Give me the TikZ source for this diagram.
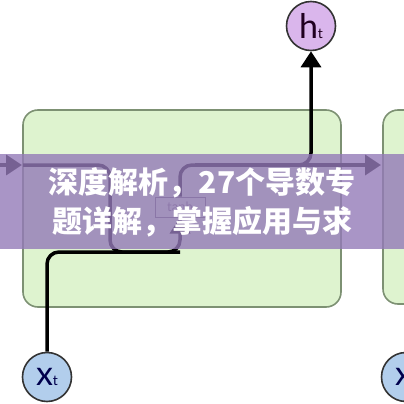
\documentclass[tikz,border=0pt]{standalone}
\usepackage{fontspec}
\newfontfamily\cjk{Noto Sans CJK SC}
\newfontfamily\betu{Lato}
\usetikzlibrary{arrows.meta,positioning}
\definecolor{zold}{RGB}{222,243,207}
\definecolor{keret}{RGB}{125,145,115}
\definecolor{lila}{RGB}{218,182,236}
\definecolor{kek}{RGB}{178,206,236}
\definecolor{savszin}{RGB}{148,122,184}
\tikzset{
  cella/.style={draw=keret,line width=1.6pt,fill=zold,rounded corners=15pt},
  kor/.style={circle,draw=black!80,line width=1.6pt,minimum size=49pt,inner sep=0pt,
              font=\betu\fontsize{34}{34}\selectfont},
  vonal/.style={line width=3.5pt,rounded corners=12pt},
  nyil/.style={-{Triangle[length=16pt,width=20pt]}},
  tanhdoboz/.style={draw=black!60,line width=1pt,fill=zold,minimum width=50pt,minimum height=20pt,
                    inner sep=0pt,font=\betu\fontsize{13}{13}\selectfont,text=black!55},
  sav/.style={fill=savszin,fill opacity=0.8},
  felirat/.style={text=white,align=center,font=\cjk\bfseries\fontsize{30}{39}\selectfont},
}
\newcommand{\alsot}{{\fontsize{14}{14}\selectfont t}}
\begin{document}
\begin{tikzpicture}[x=1pt,y=-1pt]
  \useasboundingbox (0,0) rectangle (404,404);
  \clip (0,0) rectangle (404,404);
  % cellak
  \draw[cella] (23,110) rectangle (341,307);
  \draw[cella] (383,110) rectangle (470,304);
  % csomopontok
  \node[tanhdoboz] (tanh) at (180,207) {tanh};
  \node[kor,fill=lila,text=black!75!violet] (ht) at (311,26) {h\alsot};
  \node[kor,fill=kek,text=black!70!blue] (xt) at (47,377) {x\alsot};
  \node[kor,fill=kek,text=black!70!blue] (xt2) at (406,377) {x\alsot};
  % vonalak
  \draw[vonal,nyil] (-10,165) -- (22,165);
  \draw[vonal] (23,165) -- (110,165) -- (110,252) -- (180,252);
  \draw[vonal,nyil] (xt) -- (47,252) -- (180,252) -- (tanh);
  \draw[vonal,nyil] (tanh) -- (180,165) -- (311,165) -- (ht);
  \draw[vonal,nyil] (195,165) -- (381,165);
  \draw[vonal] (xt2) -- (406,300);
  % sav
  \fill[sav] (0,154) rectangle (404,249);
  \node[felirat] (cim) at (202,202) {深度解析，27个导数专\\题详解，掌握应用与求};
\end{tikzpicture}
\end{document}
